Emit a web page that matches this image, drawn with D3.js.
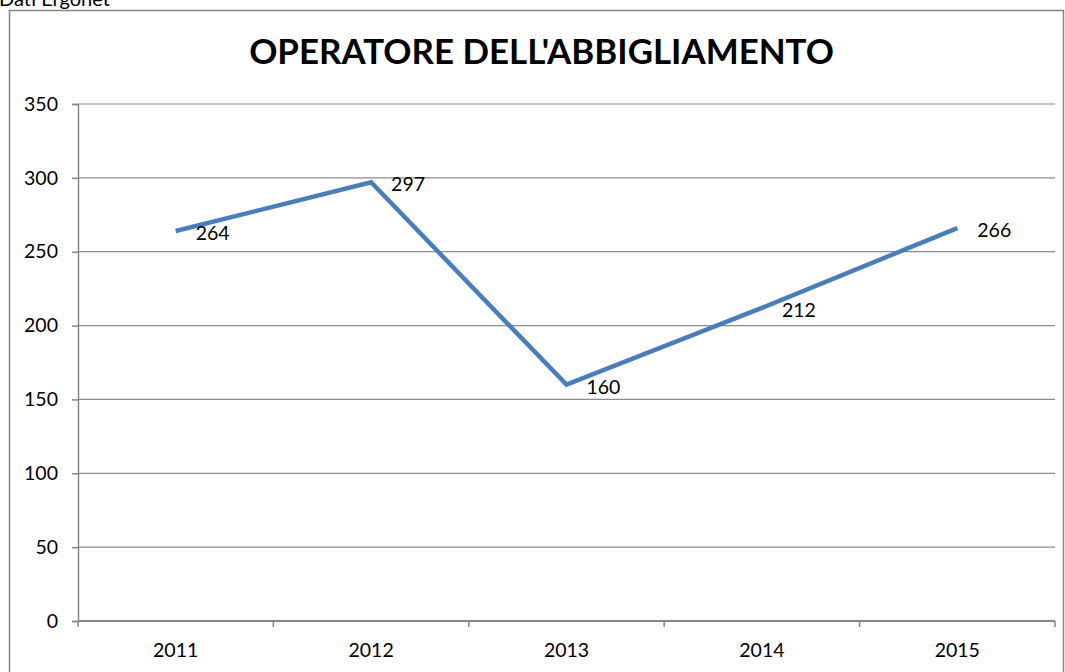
<!DOCTYPE html>
<html>
<head>
<meta charset="utf-8">
<script src="https://cdn.jsdelivr.net/npm/d3@7"></script>
<style>
  body { margin: 0; background: #fff; }
  svg { display: block; font-family: Lato, "Open Sans", sans-serif; }
</style>
</head>
<body>
<div id="chart"></div>
<script>
// data
const years = ["2011", "2012", "2013", "2014", "2015"];
const values = [264, 297, 160, 212, 266];
const yTicks = [0, 50, 100, 150, 200, 250, 300, 350];

const width = 1065;
const height = 672;
const plot = {left: 78, right: 1055, top: 104, bottom: 621};

const svg = d3.select("#chart")
    .append("svg")
    .attr("width", width)
    .attr("height", height);

// source note, cut at the top edge like the original
svg.append("text")
    .attr("x", -1)
    .attr("y", 6)
    .attr("font-size", 20)
    .attr("fill", "#000")
    .text("Dati Ergonet");

// outer chart frame
svg.append("rect")
    .attr("x", 9.5)
    .attr("y", 10.5)
    .attr("width", 1054)
    .attr("height", 700)
    .attr("fill", "none")
    .attr("stroke", "#868686")
    .attr("stroke-width", 1.5);

const x = d3.scaleBand()
    .domain(years)
    .range([plot.left, plot.right]);

const y = d3.scaleLinear()
    .domain([0, 350])
    .range([plot.bottom, plot.top]);

// gridlines
svg.append("g")
    .selectAll("line")
    .data(yTicks.slice(1))
    .enter().append("line")
    .attr("x1", plot.left)
    .attr("x2", plot.right)
    .attr("y1", d => y(d))
    .attr("y2", d => y(d))
    .attr("stroke", "#8c8c8c")
    .attr("stroke-width", 1.2);

// y axis
const yAxis = svg.append("g")
    .attr("transform", `translate(${plot.left},0)`)
    .call(d3.axisLeft(y).tickValues(yTicks).tickSize(6).tickPadding(14));
yAxis.select(".domain").attr("stroke", "#868686").attr("stroke-width", 1.5);
yAxis.selectAll(".tick line").attr("stroke", "#868686").attr("stroke-width", 1.5);
yAxis.selectAll("text").attr("font-size", 19.5).attr("font-family", "Lato, sans-serif").attr("fill", "#000");

// x axis: ticks on band edges, labels centred in bands
const xg = svg.append("g");
xg.append("line")
    .attr("x1", plot.left)
    .attr("x2", plot.right)
    .attr("y1", plot.bottom)
    .attr("y2", plot.bottom)
    .attr("stroke", "#868686")
    .attr("stroke-width", 2);
const edges = years.map(d => x(d)).concat([x(years[years.length - 1]) + x.bandwidth()]);
xg.selectAll(".edge")
    .data(edges)
    .enter().append("line")
    .attr("class", "edge")
    .attr("x1", d => d)
    .attr("x2", d => d)
    .attr("y1", plot.bottom)
    .attr("y2", plot.bottom + 6)
    .attr("stroke", "#868686")
    .attr("stroke-width", 1.5);
xg.selectAll("text")
    .data(years)
    .enter().append("text")
    .attr("x", d => x(d) + x.bandwidth() / 2)
    .attr("y", 657)
    .attr("text-anchor", "middle")
    .attr("font-size", 19.5)
    .text(d => d);

// the series
const line = d3.line()
    .x((d, i) => x(years[i]) + x.bandwidth() / 2)
    .y(d => y(d));

svg.append("path")
    .datum(values)
    .attr("d", line)
    .attr("fill", "none")
    .attr("stroke", "#4a7ebb")
    .attr("stroke-width", 4.5)
    .attr("stroke-linejoin", "miter");

// data labels
svg.append("g")
    .selectAll("text")
    .data(values)
    .enter().append("text")
    .attr("x", (d, i) => x(years[i]) + x.bandwidth() / 2 + 20)
    .attr("y", d => y(d) + 9)
    .attr("font-size", 19.5)
    .text(d => d);

// title, fitted to the original width
const title = svg.append("text")
    .attr("x", 541.5)
    .attr("y", 64)
    .attr("text-anchor", "middle")
    .attr("font-weight", "bold")
    .attr("font-size", 36)
    .text("OPERATORE DELL'ABBIGLIAMENTO");
const w = title.node().getComputedTextLength();
title.attr("font-size", 36 * 585 / w);
</script>
</body>
</html>
